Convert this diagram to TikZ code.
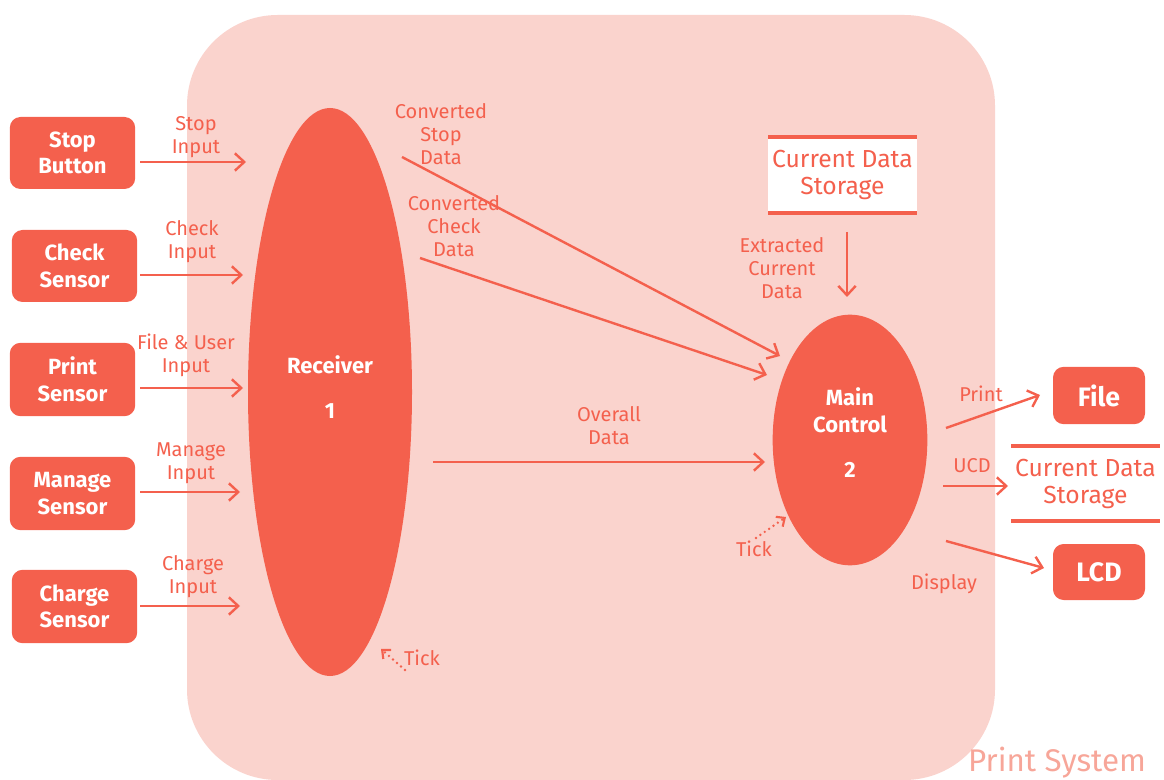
\documentclass[tikz,border=0pt]{standalone}
\usepackage{fontspec}
\setmainfont{Fira Sans}
\usetikzlibrary{arrows.meta,shapes.geometric}
\definecolor{coral}{HTML}{F4604D}
\definecolor{blush}{HTML}{FAD3CD}
\definecolor{rosy}{HTML}{F7A699}
\tikzset{
  extbox/.style={fill=coral, rounded corners=8pt, text=white, font=\fontsize{16.5}{20}\selectfont\bfseries,
                 align=center, inner sep=0pt},
  procnode/.style={ellipse, fill=coral, inner sep=0pt},
  proctext/.style={text=white, font=\fontsize{16.5}{20}\selectfont\bfseries, align=center, inner sep=0pt},
  lbl/.style={text=coral, font=\fontsize{15}{17.2}\selectfont, align=center, inner sep=0pt},
  flow/.style={draw=coral, line width=1.8pt, -{Straight Barb[length=7pt,width=13pt,line width=1.8pt]}},
  tickflow/.style={draw=coral, line width=2pt, line cap=round, dash pattern=on 0pt off 4pt,
                   -{Straight Barb[length=5pt,width=9pt,line width=1.6pt]}},
  storeline/.style={draw=coral, line width=3pt},
  storetext/.style={text=coral, font=\fontsize{18.5}{20.3}\selectfont, align=center, inner sep=0pt}
}
\begin{document}
\begin{tikzpicture}[x=0.75pt,y=-0.75pt]
\useasboundingbox (0,0) rectangle (1164,780);
% system boundary
\fill[blush, rounded corners=68pt] (187,15) rectangle (995,780);
\node[text=rosy, font=\fontsize{23.5}{26}\selectfont, inner sep=0pt] (sys) at (1057,763) {Print System};

% external entities
\node[extbox, minimum width=94pt, minimum height=54pt] (stop) at (72.5,153) {Stop\\Button};
\node[extbox, minimum width=94pt, minimum height=54pt] (check) at (74.5,266) {Check\\Sensor};
\node[extbox, minimum width=94pt, minimum height=55pt] (prints) at (72.5,379.5) {Print\\Sensor};
\node[extbox, minimum width=94pt, minimum height=55pt] (manage) at (72.5,493.5) {Manage\\Sensor};
\node[extbox, minimum width=94pt, minimum height=55pt] (charge) at (74.5,606.5) {Charge\\Sensor};
\node[extbox, minimum width=69pt, minimum height=43pt, font=\fontsize{20}{22}\selectfont\bfseries] (file) at (1099,395.5) {File};
\node[extbox, minimum width=69pt, minimum height=42pt, font=\fontsize{20}{22}\selectfont\bfseries] (lcd) at (1099,572) {LCD};

% processes
\node[procnode, minimum width=123pt, minimum height=426pt] (recv) at (330,392) {};
\node[proctext] (recvtxt) at (330,387) {Receiver\\[14pt]1};
\node[procnode, minimum width=116pt, minimum height=188pt] (main) at (850,440) {};
\node[proctext] (maintxt) at (850,433) {Main\\Control\\[14pt]2};

% data stores
\fill[white] (768,137) rectangle (917,213);
\draw[storeline] (768,137) -- (917,137);
\draw[storeline] (768,213) -- (917,213);
\node[storetext] (store1) at (842.5,175) {Current Data\\Storage};
\draw[storeline] (1011,446) -- (1160,446);
\draw[storeline] (1011,521) -- (1160,521);
\node[storetext] (store2) at (1085.5,484) {Current Data\\Storage};

% flow end points
\coordinate (s1) at (140,162);  \coordinate (e1) at (246,162);
\coordinate (s2) at (140,275);  \coordinate (e2) at (243,275);
\coordinate (s3) at (140,388);  \coordinate (e3) at (243,388);
\coordinate (s4) at (140,492);  \coordinate (e4) at (240,492);
\coordinate (s5) at (140,606);  \coordinate (e5) at (240,606);
\coordinate (cs1) at (402,157); \coordinate (ce1) at (780,356);
\coordinate (cs2) at (420,258); \coordinate (ce2) at (767,375);
\coordinate (os) at (433,462);  \coordinate (oe) at (765,462);
\coordinate (xs) at (847,232);  \coordinate (xe) at (847,297);
\coordinate (ps) at (946,428);  \coordinate (pe) at (1040,395);
\coordinate (us) at (943,486);  \coordinate (ue) at (1008,486);
\coordinate (ds) at (946,541);  \coordinate (de) at (1044,568);
\coordinate (t1s) at (405,670); \coordinate (t1e) at (381,649);
\coordinate (t2s) at (756,538); \coordinate (t2e) at (786,517);

% input flows
\draw[flow] (s1) -- (e1);
\draw[flow] (s2) -- (e2);
\draw[flow] (s3) -- (e3);
\draw[flow] (s4) -- (e4);
\draw[flow] (s5) -- (e5);
\node[lbl] (l1) at (196,137) {Stop\\Input};
\node[lbl] (l2) at (192,242) {Check\\Input};
\node[lbl] (l3) at (186,355) {File \& User\\Input};
\node[lbl] (l4) at (191,463) {Manage\\Input};
\node[lbl] (l5) at (193,577) {Charge\\Input};

% receiver to main control
\draw[flow] (cs1) -- (ce1);
\draw[flow] (cs2) -- (ce2);
\draw[flow] (os) -- (oe);
\node[lbl] (l6) at (441,134) {Converted\\Stop\\Data};
\node[lbl] (l7) at (454,226) {Converted\\Check\\Data};
\node[lbl] (l8) at (609,426) {Overall\\Data};

% store to main control
\draw[flow] (xs) -- (xe);
\node[lbl] (l9) at (782,268) {Extracted\\Current\\Data};

% outputs
\draw[flow] (ps) -- (pe);
\draw[flow] (us) -- (ue);
\draw[flow] (ds) -- (de);
\node[lbl] (l10) at (981,394) {Print};
\node[lbl] (l11) at (972,466) {UCD};
\node[lbl] (l12) at (944,584) {Display};

% clock ticks
\draw[tickflow] (t1s) -- (t1e);
\draw[tickflow] (t2s) -- (t2e);
\node[lbl] (l13) at (422,658) {Tick};
\node[lbl] (l14) at (754,549) {Tick};
\end{tikzpicture}
\end{document}
